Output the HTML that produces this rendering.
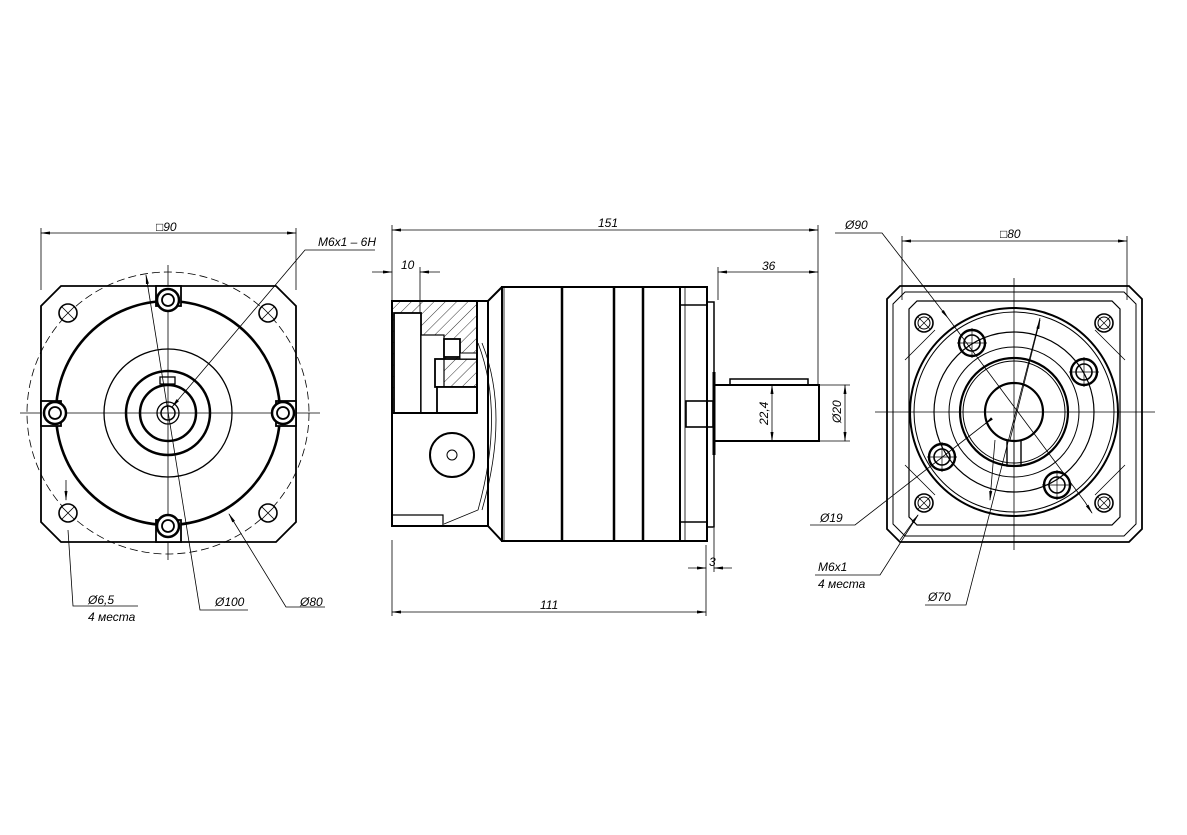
<!DOCTYPE html>
<html><head><meta charset="utf-8"><style>
html,body{margin:0;padding:0;background:#fff}
svg{display:block}
text{font-family:"Liberation Sans","DejaVu Sans",sans-serif;font-style:italic;font-size:12px;fill:#000}
</style></head><body>
<svg width="1187" height="835" viewBox="0 0 1187 835" xmlns="http://www.w3.org/2000/svg">
<defs>
<pattern id="h" width="8" height="8" patternUnits="userSpaceOnUse" patternTransform="rotate(45)">
<line x1="0" y1="0" x2="0" y2="8" stroke="#000" stroke-width="0.8"/></pattern>
<marker id="a" markerWidth="10" markerHeight="6" refX="9" refY="3" orient="auto-start-reverse" markerUnits="userSpaceOnUse"><path d="M0,1.5 L10,3 L0,4.5z" fill="#000"/></marker>
</defs>
<g fill="none" stroke="#000">
<!-- ========== LEFT VIEW ========== -->
<g stroke-width="0.8">
<line x1="20" y1="413" x2="320" y2="413"/>
<line x1="168" y1="265" x2="168" y2="560"/>
<circle cx="168" cy="413" r="141" stroke-dasharray="8,4"/>
<line x1="41" y1="233" x2="296" y2="233" marker-start="url(#a)" marker-end="url(#a)"/>
<line x1="41" y1="228" x2="41" y2="290"/><line x1="296" y1="228" x2="296" y2="290"/>
<polyline points="172,407 305,250 375,250" marker-start="url(#a)"/>
<polyline points="146,275 200,610 248,610" marker-start="url(#a)"/>
<polyline points="229,514 286,607 325,607" marker-start="url(#a)"/>
<polyline points="68,530 73,606 138,606"/>
<line x1="66" y1="480" x2="66" y2="500" marker-end="url(#a)"/>
</g>
<path d="M61,286 L276,286 L296,306 L296,522 L276,542 L61,542 L41,522 L41,306 Z" stroke-width="1.8"/>
<circle cx="168" cy="413" r="112" stroke-width="2.6"/>
<circle cx="168" cy="413" r="64" stroke-width="1.3"/>
<circle cx="168" cy="413" r="42" stroke-width="2.5"/>
<circle cx="168" cy="413" r="28" stroke-width="2.5"/>
<circle cx="168" cy="413" r="11" stroke-width="1.3"/>
<circle cx="168" cy="413" r="7" stroke-width="1.5"/>
<rect x="160" y="377" width="15" height="7" stroke-width="1.3"/>
<g stroke-width="1.6" fill="#fff">
<circle cx="68" cy="313" r="9"/><circle cx="268" cy="313" r="9"/>
<circle cx="68" cy="513" r="9"/><circle cx="268" cy="513" r="9"/>
</g>
<g stroke-width="0.8">
<path d="M62,307 l12,12 M74,307 l-12,12 M262,307 l12,12 M274,307 l-12,12 M62,507 l12,12 M74,507 l-12,12 M262,507 l12,12 M274,507 l-12,12"/>
</g>
<g stroke-width="1.8" fill="#fff">
<rect x="156" y="286" width="25" height="20"/><circle cx="168" cy="300" r="11" stroke-width="2.5"/><circle cx="168" cy="300" r="6"/>
<rect x="156" y="520" width="25" height="22"/><circle cx="168" cy="526" r="11" stroke-width="2.5"/><circle cx="168" cy="526" r="6"/>
<rect x="41" y="401" width="20" height="25"/><circle cx="55" cy="413" r="11" stroke-width="2.5"/><circle cx="55" cy="413" r="6"/>
<rect x="276" y="401" width="20" height="25"/><circle cx="283" cy="413" r="11" stroke-width="2.5"/><circle cx="283" cy="413" r="6"/>
</g>

<!-- ========== MIDDLE VIEW ========== -->
<g stroke-width="0.8">
<line x1="392" y1="230" x2="818" y2="230" marker-start="url(#a)" marker-end="url(#a)"/>
<line x1="392" y1="225" x2="392" y2="300"/>
<line x1="818" y1="225" x2="818" y2="385"/>
<line x1="718" y1="272" x2="818" y2="272" marker-start="url(#a)" marker-end="url(#a)"/>
<line x1="718" y1="267" x2="718" y2="300"/>
<line x1="372" y1="272" x2="392" y2="272" marker-end="url(#a)"/>
<line x1="420" y1="272" x2="440" y2="272" marker-start="url(#a)"/>
<line x1="420" y1="267" x2="420" y2="315"/>
<line x1="392" y1="540" x2="392" y2="616"/>
<line x1="706" y1="545" x2="706" y2="616"/>
<line x1="714" y1="528" x2="714" y2="572"/>
<line x1="392" y1="612" x2="706" y2="612" marker-start="url(#a)" marker-end="url(#a)"/>
<line x1="688" y1="568" x2="706" y2="568" marker-end="url(#a)"/>
<line x1="714" y1="568" x2="732" y2="568" marker-start="url(#a)"/>
<line x1="772" y1="385" x2="772" y2="441" marker-start="url(#a)" marker-end="url(#a)"/>
<line x1="845" y1="385" x2="845" y2="441" marker-start="url(#a)" marker-end="url(#a)"/>
<line x1="819" y1="385" x2="850" y2="385"/><line x1="819" y1="441" x2="850" y2="441"/>
<path d="M478,343 Q505,413 478,510 L444,524" />
<path d="M482,343 Q510,413 482,510" />
</g>
<rect x="392" y="301" width="85" height="112" fill="url(#h)" stroke="none"/>
<g stroke-width="1.8" fill="#fff">
<rect x="394" y="313" width="27" height="100"/>
<rect x="421" y="335" width="23" height="78" stroke-width="1.2"/>
<rect x="444" y="339" width="16" height="18"/>
<rect x="435" y="359" width="42" height="28" fill="none"/>
<rect x="437" y="387" width="40" height="26"/>
<rect x="460" y="353" width="17" height="6" stroke-width="1"/>
</g>
<g stroke-width="2">
<path d="M392,301 L488,301 L488,526 L392,526 Z"/>
<line x1="477" y1="301" x2="477" y2="413"/>
<line x1="392" y1="413" x2="477" y2="413"/>
<path d="M488,301 L502,287 M488,526 L502,541"/>
<rect x="502" y="287" width="205" height="254"/>
<line x1="562" y1="287" x2="562" y2="541" stroke-width="2.5"/>
<line x1="614" y1="288" x2="614" y2="541" stroke-width="2.5"/>
<line x1="643" y1="288" x2="643" y2="541" stroke-width="2.5"/>
<line x1="680" y1="287" x2="680" y2="541"/>
<path d="M680,305 L707,305 M680,522 L707,522" stroke-width="1.5"/>
<rect x="707" y="302" width="7" height="225" stroke-width="1.5"/>
<line x1="714" y1="372" x2="714" y2="455" stroke-width="3"/>
<rect x="714" y="385" width="105" height="56"/>
<rect x="730" y="379" width="78" height="6" stroke-width="1.5"/>
<rect x="686" y="401" width="27" height="26" stroke-width="1.6"/>
<circle cx="452" cy="455" r="22"/>
<circle cx="452" cy="455" r="5" stroke-width="1"/>
<path d="M392,515 L443,515 L443,526" stroke-width="1.2"/>
</g>
<line x1="504" y1="287" x2="504" y2="541" stroke-width="0.8"/>
<line x1="685" y1="287" x2="685" y2="541" stroke-width="0.8"/>

<!-- ========== RIGHT VIEW ========== -->
<g stroke-width="0.8">
<line x1="875" y1="412" x2="1155" y2="412"/>
<line x1="1014" y1="278" x2="1014" y2="550"/>
<path d="M905,360 L935,330 M1095,330 L1125,360 M905,465 L935,495 M1095,495 L1125,465"/>
<line x1="902" y1="241" x2="1127" y2="241" marker-start="url(#a)" marker-end="url(#a)"/>
<line x1="902" y1="236" x2="902" y2="300"/><line x1="1127" y1="236" x2="1127" y2="300"/>
<polyline points="835,233 882,233 948,318" marker-end="url(#a)"/>
<line x1="1085" y1="502" x2="1092" y2="513" marker-end="url(#a)"/>
<polyline points="810,525 855,525 990,420"/>
<line x1="990" y1="420" x2="985" y2="424" marker-end="url(#a)"/>
<polyline points="815,575 880,575 918,515" />
<line x1="900" y1="540" x2="918" y2="515" marker-end="url(#a)"/>
<polyline points="925,605 966,605 1040,318" />
<line x1="1010" y1="440" x2="1040" y2="320" marker-end="url(#a)"/>
<line x1="995" y1="440" x2="990" y2="500" marker-end="url(#a)"/>
<path d="M948,318 L1085,502"/>
</g>
<g stroke-width="1.8">
<path d="M900,286 L1129,286 L1142,299 L1142,529 L1129,542 L900,542 L887,529 L887,299 Z"/>
<path d="M905,292 L1124,292 L1136,304 L1136,524 L1124,536 L905,536 L893,524 L893,304 Z" stroke-width="1"/>
<path d="M917,301 L1112,301 L1120,309 L1120,517 L1112,525 L917,525 L909,517 L909,309 Z" stroke-width="1.2"/>
<circle cx="1014" cy="412" r="104" stroke-width="2"/>
<circle cx="1014" cy="412" r="100" stroke-width="1"/>
<circle cx="1014" cy="412" r="80" stroke-width="1.2"/>
<circle cx="1014" cy="412" r="65" stroke-width="1"/>
<circle cx="1014" cy="412" r="54" stroke-width="2.2"/>
<circle cx="1014" cy="412" r="51" stroke-width="1"/>
<circle cx="1014" cy="412" r="29" stroke-width="2.2"/>
<path d="M1007,441 L1007,466 L1021,466 L1021,441" stroke-width="1.4"/>
<line x1="1014" y1="441" x2="1014" y2="466" stroke-width="0.8"/>
</g>
<g stroke-width="1.6">
<circle cx="924" cy="323" r="9"/><circle cx="924" cy="323" r="6" stroke-width="1"/>
<circle cx="1104" cy="323" r="9"/><circle cx="1104" cy="323" r="6" stroke-width="1"/>
<circle cx="924" cy="503" r="9"/><circle cx="924" cy="503" r="6" stroke-width="1"/>
<circle cx="1104" cy="503" r="9"/><circle cx="1104" cy="503" r="6" stroke-width="1"/>
<circle cx="972" cy="343" r="13" stroke-width="2.4"/><circle cx="972" cy="343" r="8"/>
<circle cx="1084" cy="372" r="13" stroke-width="2.4"/><circle cx="1084" cy="372" r="8"/>
<circle cx="942" cy="457" r="13" stroke-width="2.4"/><circle cx="942" cy="457" r="8"/>
<circle cx="1057" cy="485" r="13" stroke-width="2.4"/><circle cx="1057" cy="485" r="8"/>
</g>
<g stroke-width="0.7">
<path d="M918,317 l12,12 M930,317 l-12,12 M1098,317 l12,12 M1110,317 l-12,12 M918,497 l12,12 M930,497 l-12,12 M1098,497 l12,12 M1110,497 l-12,12"/>
<path d="M957,343 h30 M972,328 v30 M1069,372 h30 M1084,357 v30 M927,457 h30 M942,442 v30 M1042,485 h30 M1057,470 v30"/>
</g>
</g>
<!-- TEXT -->
<text x="156" y="231">□90</text>
<text x="318" y="246">M6x1 – 6H</text>
<text x="88" y="604">Ø6,5</text>
<text x="88" y="621">4 места</text>
<text x="215" y="606">Ø100</text>
<text x="300" y="606">Ø80</text>
<text x="598" y="227">151</text>
<text x="401" y="269">10</text>
<text x="762" y="270">36</text>
<text x="709" y="566">3</text>
<text x="540" y="609">111</text>
<text x="0" y="0" transform="translate(768,425) rotate(-90)">22,4</text>
<text x="0" y="0" transform="translate(841,423) rotate(-90)">Ø20</text>
<text x="845" y="229">Ø90</text>
<text x="1000" y="238">□80</text>
<text x="820" y="522">Ø19</text>
<text x="818" y="571">M6x1</text>
<text x="818" y="588">4 места</text>
<text x="928" y="601">Ø70</text>
</svg>
</body></html>
